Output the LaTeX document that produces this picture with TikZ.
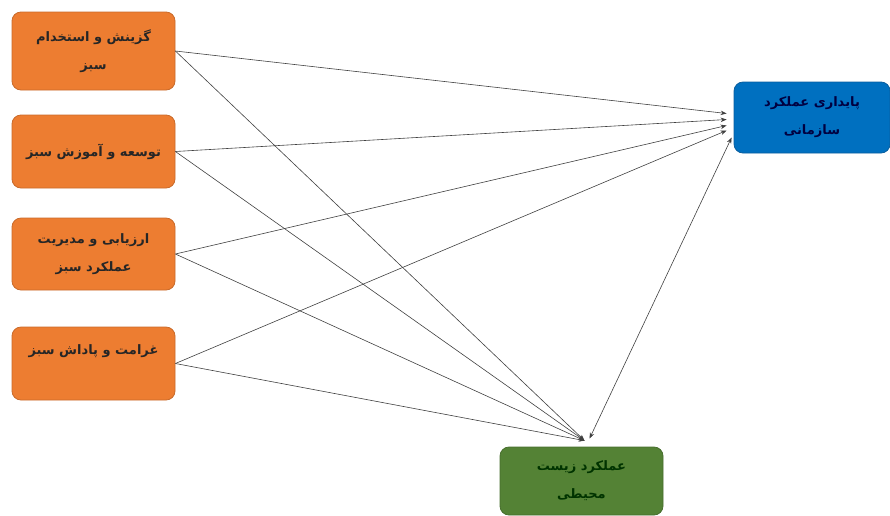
\documentclass[tikz,border=0pt]{standalone}
\usepackage{fontspec}
\newfontfamily\arabicfont[Script=Arabic]{DejaVu Sans}
\TeXXeTstate=1
\usepackage{tikz}
\usetikzlibrary{arrows.meta, calc}
\definecolor{naranja}{HTML}{ED7D31}
\definecolor{naranjaborde}{HTML}{C96A2A}
\definecolor{azul}{HTML}{0070C0}
\definecolor{azulborde}{HTML}{0A5E9E}
\definecolor{verde}{HTML}{548235}
\definecolor{verdeborde}{HTML}{476E2D}
\tikzstyle{arrow}     = [line width=0.6pt,-{Stealth[length=6pt,width=4.5pt]},black!75]

\begin{document}
\begin{tikzpicture}[x=1pt, y=-1pt]

\tikzset{
  practica/.style={rectangle, rounded corners=9pt,
    minimum width=163pt, minimum height=73pt,
    align=center, draw=naranjaborde, fill=naranja, line width=0.8pt,
    font=\arabicfont\bfseries\fontsize{13}{28}\selectfont, text=black!85},
  resultado/.style={rectangle, rounded corners=9pt,
    minimum width=156pt, minimum height=71pt,
    align=center, line width=0.8pt,
    font=\arabicfont\bfseries\fontsize{13}{28}\selectfont},
  doble/.style={line width=0.6pt,
    {Stealth[length=6pt,width=4.5pt]}-{Stealth[length=6pt,width=4.5pt]},black!75}
}

\useasboundingbox (0,0) rectangle (890,515);

% ---- HRM PRACTICES (left) ----
\node (gzn) [practica, minimum height=78pt] at (93.5, 51)
  {\beginR گزینش و استخدام\endR\\\beginR سبز\endR};
\node (tws) [practica] at (93.5,151.5)
  {\beginR توسعه و آموزش سبز\endR};
\node (arz) [practica, minimum height=72pt] at (93.5,254)
  {\beginR ارزیابی و مدیریت\endR\\\beginR عملکرد سبز\endR};
\node (grm) [practica] at (93.5,363.5)
  {\beginR غرامت و پاداش سبز\endR\\~};

% ---- OUTCOMES (right) ----
\node (pay) [resultado, fill=azul, draw=azulborde, text=blue!25!black]
  at (812,117.5)
  {\beginR پایداری عملکرد\endR\\\beginR سازمانی\endR};
\node (zst) [resultado, fill=verde, draw=verdeborde, text=green!20!black,
  minimum width=163pt, minimum height=68pt] at (581.5,481)
  {\beginR عملکرد  زیست\endR\\\beginR محیطی\endR};

% ---- ARROW ENDS ----
\coordinate (p1) at ($(pay.west)+(-7,-4)$);
\coordinate (p2) at ($(pay.west)+(-7, 2)$);
\coordinate (p3) at ($(pay.west)+(-7, 8)$);
\coordinate (p4) at ($(pay.west)+(-7,13)$);
\coordinate (p5) at ($(pay.west)+(-2,20)$);
\coordinate (z1) at ($(zst.north)+(3,-6)$);
\coordinate (z2) at ($(zst.north)+(8,-8)$);

% ---- ARROWS TO SUSTAINABILITY ----
\draw[arrow] (gzn.east) -- (p1);
\draw[arrow] (tws.east) -- (p2);
\draw[arrow] (arz.east) -- (p3);
\draw[arrow] (grm.east) -- (p4);

% ---- ARROWS TO ENVIRONMENT ----
\draw[arrow] (gzn.east) -- (z1);
\draw[arrow] (tws.east) -- (z1);
\draw[arrow] (arz.east) -- (z1);
\draw[arrow] (grm.east) -- (z1);

% ---- BETWEEN OUTCOMES ----
\draw[doble] (z2) -- (p5);

\end{tikzpicture}
\end{document}
